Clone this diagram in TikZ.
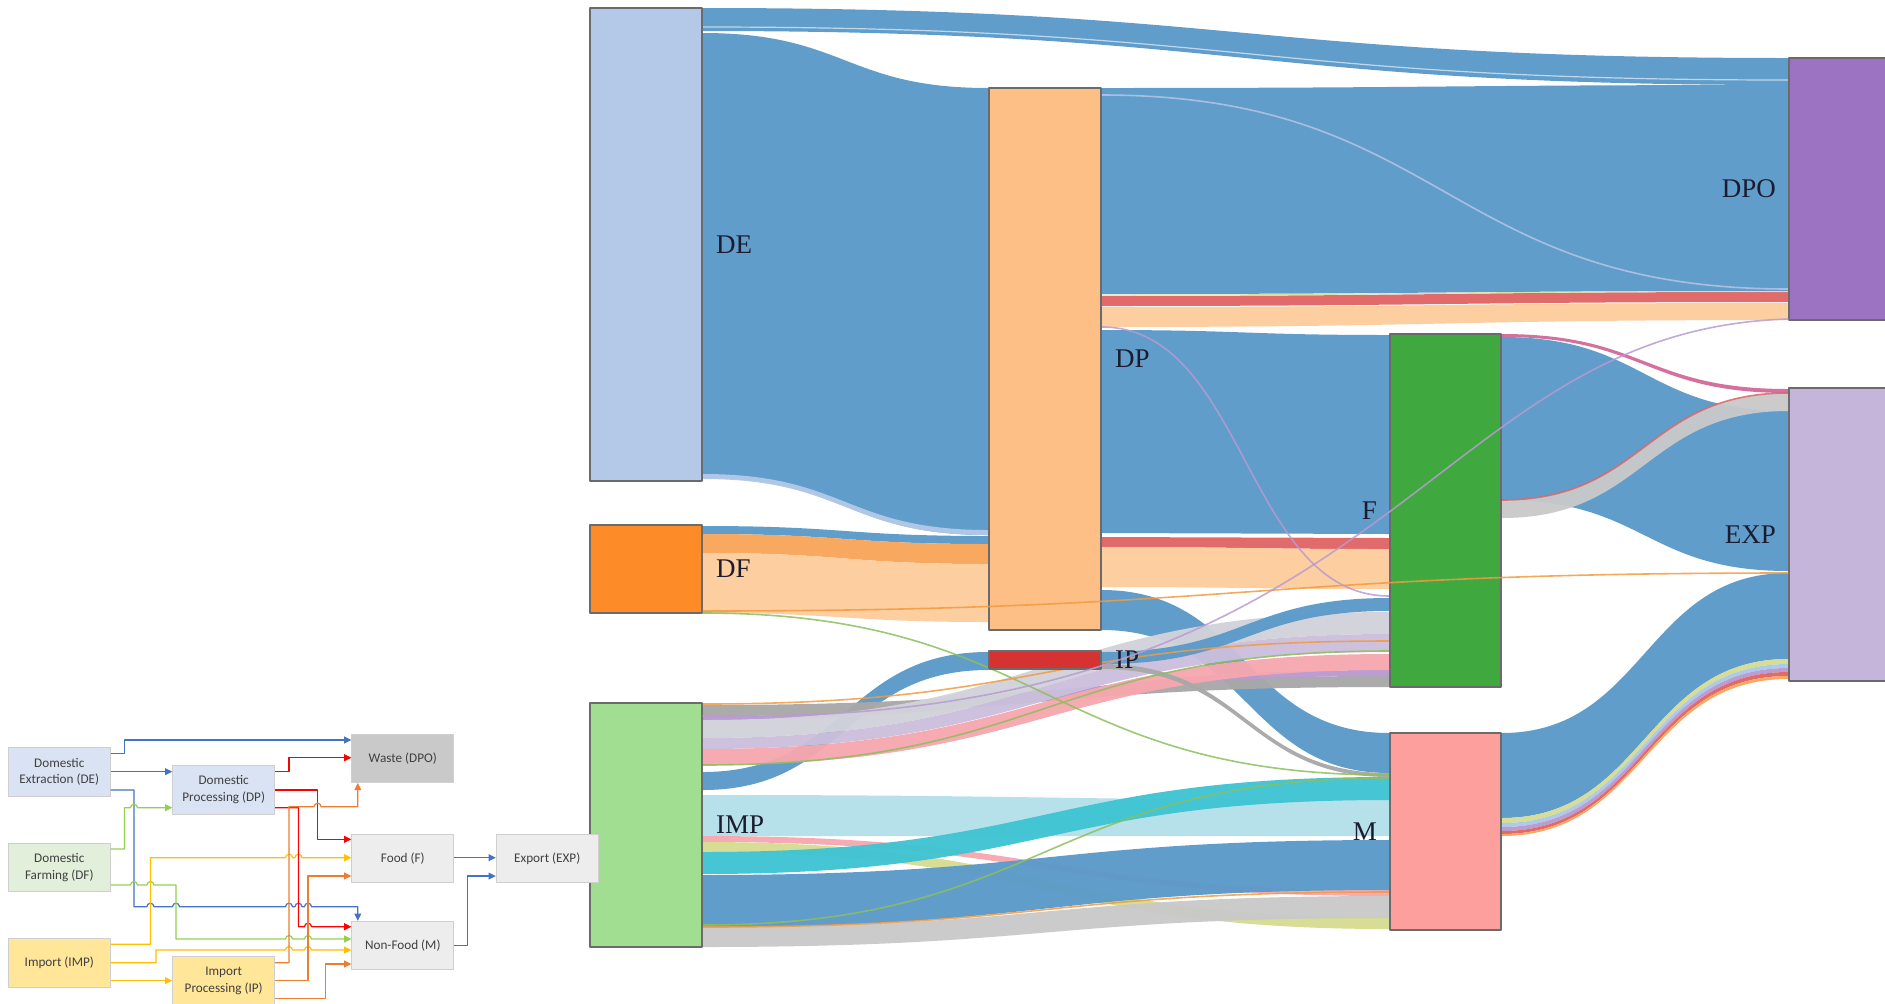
\documentclass[tikz,border=0pt]{standalone}
\usepackage{fontspec}
\newfontfamily\labelfont{Liberation Serif}
\newfontfamily\legendfont{Carlito}
\usetikzlibrary{arrows.meta, positioning, fit, calc, backgrounds}

\definecolor{cDE}{HTML}{B4C8E8}
\definecolor{cDF}{HTML}{FD8C28}
\definecolor{cIMP}{HTML}{A2DE91}
\definecolor{cDP}{HTML}{FDBF86}
\definecolor{cIP}{HTML}{D73232}
\definecolor{cF}{HTML}{3FA93F}
\definecolor{cM}{HTML}{FC9F9D}
\definecolor{cDPO}{HTML}{9B73C2}
\definecolor{cEXP}{HTML}{C6B5DA}
\definecolor{cBlue}{HTML}{5B9AC9}
\definecolor{cOrange}{HTML}{F9A55A}
\definecolor{cPeach}{HTML}{FDCC9C}
\definecolor{cRed}{HTML}{E06464}
\definecolor{cGray}{HTML}{A8A8A8}
\definecolor{cLightGray}{HTML}{D2D3DA}
\definecolor{cLavender}{HTML}{CBBFDC}
\definecolor{cLilac}{HTML}{B99AD2}
\definecolor{cPink}{HTML}{F6A7AE}
\definecolor{cLightCyan}{HTML}{B4E0EA}
\definecolor{cCyan}{HTML}{3FC4D3}
\definecolor{cOlive}{HTML}{D6DC90}
\definecolor{cSky}{HTML}{A9C9E8}
\definecolor{cMagenta}{HTML}{D46A9A}
\definecolor{cGreenLine}{HTML}{8CBF5C}
\definecolor{cOrangeLine}{HTML}{F39A3F}
\definecolor{cPeri}{HTML}{B9C3E6}
\definecolor{boxline}{HTML}{6B6B6B}
\definecolor{labelink}{HTML}{1C1C30}
\definecolor{lgBlue}{HTML}{DAE3F3}
\definecolor{lgGreen}{HTML}{E2EFDA}
\definecolor{lgYellow}{HTML}{FFE699}
\definecolor{lgWaste}{HTML}{C9C9C9}
\definecolor{lgGrey}{HTML}{EDEDED}
\definecolor{legline}{HTML}{CFCFCF}
\definecolor{legink}{HTML}{404040}
\definecolor{wBlue}{HTML}{4472C4}
\definecolor{wGreen}{HTML}{92D050}
\definecolor{wYellow}{HTML}{FFC000}
\definecolor{wRed}{HTML}{FF0000}
\definecolor{wOrange}{HTML}{ED7D31}

\newcommand{\band}[7]{%
  \fill[band,#7] (#1.east |- 0,#2)
    .. controls ($(#1.east |- 0,#2)!0.5!(#4.west |- 0,#2)$) and ($(#1.east |- 0,#5)!0.5!(#4.west |- 0,#5)$) .. (#4.west |- 0,#5)
    -- (#4.west |- 0,#6)
    .. controls ($(#1.east |- 0,#6)!0.5!(#4.west |- 0,#6)$) and ($(#1.east |- 0,#3)!0.5!(#4.west |- 0,#3)$) .. (#1.east |- 0,#3)
    -- cycle;}
\newcommand{\strand}[5]{%
  \draw[strand,#5] (#1.east |- 0,#2)
    .. controls ($(#1.east |- 0,#2)!0.5!(#3.west |- 0,#2)$) and ($(#1.east |- 0,#4)!0.5!(#3.west |- 0,#4)$) .. (#3.west |- 0,#4);}
\newcommand{\hop}{arc[start angle=180,end angle=0,radius=1.75pt]}

\begin{document}
\begin{tikzpicture}[x=0.5pt,y=-0.5pt,>={Triangle[length=3.6pt,width=3.4pt]},line join=bevel,
  sbox/.style={draw=boxline,line width=0.7pt,inner sep=0pt},
  slabel/.style={inner sep=0pt,text=labelink,font=\labelfont\fontsize{13.5}{16}\selectfont},
  band/.style={fill opacity=0.96},
  strand/.style={line width=0.8pt,draw opacity=0.85},
  lbox/.style={draw=legline,line width=0.5pt,minimum width=50.9pt,minimum height=24.2pt,inner sep=0pt,
    align=center,text=legink,font=\legendfont\fontsize{6.6}{8.3}\selectfont},
  lwire/.style={line width=0.6pt,->}]
\useasboundingbox (0,0) rectangle (1885,1003);
%%
\node[sbox,fill=cDE,fit={(590,8) (702,481)}] (node_de) {};
\node[sbox,fill=cDF,fit={(590,525) (702,613)}] (node_df) {};
\node[sbox,fill=cIMP,fit={(590,703) (702,947)}] (node_imp) {};
\node[sbox,fill=cDP,fit={(989,88) (1101,630)}] (node_dp) {};
\node[sbox,fill=cIP,fit={(989,651) (1101,669)}] (node_ip) {};
\node[sbox,fill=cF,fit={(1390,334) (1501,687)}] (node_f) {};
\node[sbox,fill=cM,fit={(1390,733) (1501,930)}] (node_m) {};
\node[sbox,fill=cDPO,fit={(1789,58) (1900,320)}] (node_dpo) {};
\node[sbox,fill=cEXP,fit={(1789,388) (1900,681)}] (node_exp) {};
\node[slabel,right=6.5pt of node_de] (lab_de) {DE};
\node[slabel,right=6.5pt of node_df] (lab_df) {DF};
\node[slabel,right=6.5pt of node_imp] (lab_imp) {IMP};
\node[slabel,right=6.5pt of node_dp] (lab_dp) {DP};
\node[slabel,right=6.5pt of node_ip] (lab_ip) {IP};
\node[slabel,left=6pt of node_f] (lab_f) {F};
\node[slabel,left=6pt of node_m] (lab_m) {M};
\node[slabel,left=6pt of node_dpo] (lab_dpo) {DPO};
\node[slabel,left=6pt of node_exp] (lab_exp) {EXP};
%
\begin{scope}[on background layer]
\fill[white] (0,0) rectangle (1885,1003);
\band{node_de}{8}{31}{node_dpo}{58}{85}{fill=cBlue}
\band{node_de}{33}{478}{node_dp}{88}{535}{fill=cBlue}
\band{node_de}{474}{479}{node_dp}{530}{535}{fill=cDE}
\band{node_df}{526}{534}{node_dp}{536}{544}{fill=cBlue}
\band{node_df}{534}{553}{node_dp}{544}{564}{fill=cOrange}
\band{node_df}{553}{613}{node_dp}{564}{622}{fill=cPeach}
\band{node_dp}{88}{294}{node_dpo}{85}{291}{fill=cBlue}
\band{node_dp}{296}{306}{node_dpo}{292}{302}{fill=cRed}
\band{node_dp}{307}{327}{node_dpo}{303}{320}{fill=cPeach}
\band{node_dp}{330}{533}{node_f}{335}{534}{fill=cBlue}
\band{node_dp}{537}{547}{node_f}{538}{549}{fill=cRed}
\band{node_dp}{547}{587}{node_f}{549}{589}{fill=cPeach}
\band{node_dp}{590}{630}{node_m}{733}{773}{fill=cBlue}
\band{node_imp}{772}{790}{node_ip}{652}{670}{fill=cBlue}
\band{node_imp}{705}{716}{node_f}{676}{687}{fill=cGray}
\band{node_imp}{716}{720}{node_f}{670}{676}{fill=cLilac}
\band{node_imp}{720}{738}{node_f}{612}{634}{fill=cLightGray}
\band{node_imp}{738}{749}{node_f}{634}{652}{fill=cLavender}
\band{node_imp}{749}{765}{node_f}{654}{670}{fill=cPink}
\band{node_imp}{795}{836}{node_m}{800}{836}{fill=cLightCyan}
\band{node_imp}{836}{842}{node_m}{890}{896}{fill=cPink}
\band{node_imp}{842}{852}{node_m}{918}{929}{fill=cOlive}
\band{node_imp}{852}{874}{node_m}{777}{800}{fill=cCyan}
\band{node_imp}{875}{927}{node_m}{840}{890}{fill=cBlue}
\band{node_imp}{927}{947}{node_m}{896}{918}{fill=lgWaste}
\band{node_ip}{652}{664}{node_f}{598}{611}{fill=cBlue}
\band{node_ip}{664}{669}{node_m}{773}{777}{fill=cGray}
\band{node_f}{337}{500}{node_exp}{411}{571}{fill=cBlue}
\band{node_f}{500}{518}{node_exp}{393}{411}{fill=lgWaste}
\band{node_f}{334}{337}{node_exp}{389}{393}{fill=cMagenta}
\band{node_m}{733}{818}{node_exp}{573}{659}{fill=cBlue}
\band{node_m}{818}{823}{node_exp}{659}{664}{fill=cOlive}
\band{node_m}{823}{827}{node_exp}{664}{668}{fill=cSky}
\band{node_m}{827}{831}{node_exp}{668}{672}{fill=cLilac}
\band{node_m}{831}{834}{node_exp}{672}{676}{fill=cRed}
\band{node_m}{834}{836}{node_exp}{676}{679}{fill=cOrange}
\strand{node_de}{27}{node_dpo}{80}{draw=white,line width=0.6pt,draw opacity=0.6}
\strand{node_dp}{95}{node_dpo}{289}{draw=cPeri}
\strand{node_dp}{295}{node_dpo}{291.5}{draw=cOlive,line width=0.5pt}
\strand{node_dp}{327}{node_f}{596}{draw=cLilac}
\strand{node_f}{500}{node_exp}{393}{draw=cRed}
\strand{node_df}{613}{node_m}{775}{draw=cGreenLine}
\strand{node_imp}{927}{node_m}{892}{draw=cOrangeLine}
\strand{node_imp}{925}{node_m}{778}{draw=cGreenLine}
\strand{node_imp}{704}{node_f}{641}{draw=cOrangeLine}
\strand{node_imp}{765}{node_f}{651}{draw=cGreenLine}
\end{scope}
\strand{node_df}{611}{node_exp}{573}{draw=cOrangeLine}
\draw[strand,draw=cLilac] (node_imp.east |- 0,716) .. controls (1400,730) and (1420,330) .. (node_dpo.west |- 0,319);
%
\node[lbox,fill=lgBlue] (leg_de) at (59.3,771.8) {Domestic\\Extraction (DE)};
\node[lbox,fill=lgBlue] (leg_dp) at (223.7,789.8) {Domestic\\Processing (DP)};
\node[lbox,fill=lgWaste] (leg_dpo) at (402.8,758.2) {Waste (DPO)};
\node[lbox,fill=lgGreen] (leg_df) at (59.3,867.5) {Domestic\\Farming (DF)};
\node[lbox,fill=lgGrey] (leg_f) at (402.8,858.5) {Food (F)};
\node[lbox,fill=lgGrey] (leg_exp) at (547.2,858.5) {Export (EXP)};
\node[lbox,fill=lgGrey] (leg_m) at (402.8,945.5) {Non-Food (M)};
\node[lbox,fill=lgYellow] (leg_imp) at (59.3,962.8) {Import (IMP)};
\node[lbox,fill=lgYellow] (leg_ip) at (223.7,980.8) {Import\\Processing (IP)};
%
\draw[lwire,wBlue] (leg_de.east |- 0,753.3) -- (124.4,753.3) -- (124.4,740) -- (leg_dpo.west |- 0,740);
\draw[lwire,wBlue] (leg_de.east |- 0,771.7) -- (leg_dp.west |- 0,771.7);
\draw[lwire,wBlue] (leg_de.east |- 0,790) -- (134,790) -- (134,906.7) -- (146.9,906.7) \hop -- (172.5,906.7) \hop -- (285.5,906.7) \hop -- (295,906.7) \hop -- (304.5,906.7) \hop -- (357.8,906.7) -- (leg_m.north -| 357.8,0);
\draw[lwire,wBlue] (leg_f.east |- 0,857.7) -- (leg_exp.west |- 0,857.7);
\draw[lwire,wBlue] (leg_m.east |- 0,945.7) -- (467.7,945.7) -- (467.7,876) -- (leg_exp.west |- 0,876);
\draw[lwire,wGreen] (leg_df.east |- 0,849) -- (124.4,849) -- (124.4,807.7) -- (130.5,807.7) \hop -- (leg_dp.west |- 0,807.7);
\draw[lwire,wGreen] (leg_df.east |- 0,885) -- (130.5,885) \hop -- (146.9,885) \hop -- (176,885) -- (176,939) -- (285.5,939) \hop -- (304.5,939) \hop -- (leg_m.west |- 0,939);
\draw[lwire,wYellow] (leg_imp.east |- 0,944.3) -- (150.4,944.3) -- (150.4,857.7) -- (285.5,857.7) \hop -- (295,857.7) \hop -- (leg_f.west |- 0,857.7);
\draw[lwire,wYellow] (leg_imp.east |- 0,962.7) -- (156,962.7) -- (156,950) -- (285.5,950) \hop -- (304.5,950) \hop -- (leg_m.west |- 0,950);
\draw[lwire,wYellow] (leg_imp.east |- 0,980.7) -- (leg_ip.west |- 0,980.7);
\draw[lwire,wRed] (leg_dp.east |- 0,771.7) -- (289,771.7) -- (289,757.7) -- (leg_dpo.west |- 0,757.7);
\draw[lwire,wRed] (leg_dp.east |- 0,790) -- (317.6,790) -- (317.6,839.3) -- (leg_f.west |- 0,839.3);
\draw[lwire,wRed] (leg_dp.east |- 0,807.7) -- (298.5,807.7) -- (298.5,926.7) -- (304.5,926.7) \hop -- (leg_m.west |- 0,926.7);
\draw[lwire,wOrange] (leg_ip.east |- 0,962.7) -- (289,962.7) -- (289,806.7) -- (314.1,806.7) \hop -- (357.8,806.7) -- (leg_dpo.south -| 357.8,0);
\draw[lwire,wOrange] (leg_ip.east |- 0,980.7) -- (308,980.7) -- (308,876) -- (leg_f.west |- 0,876);
\draw[lwire,wOrange] (leg_ip.east |- 0,998.3) -- (325.3,998.3) -- (325.3,964) -- (leg_m.west |- 0,964);
%
\end{tikzpicture}
\end{document}
